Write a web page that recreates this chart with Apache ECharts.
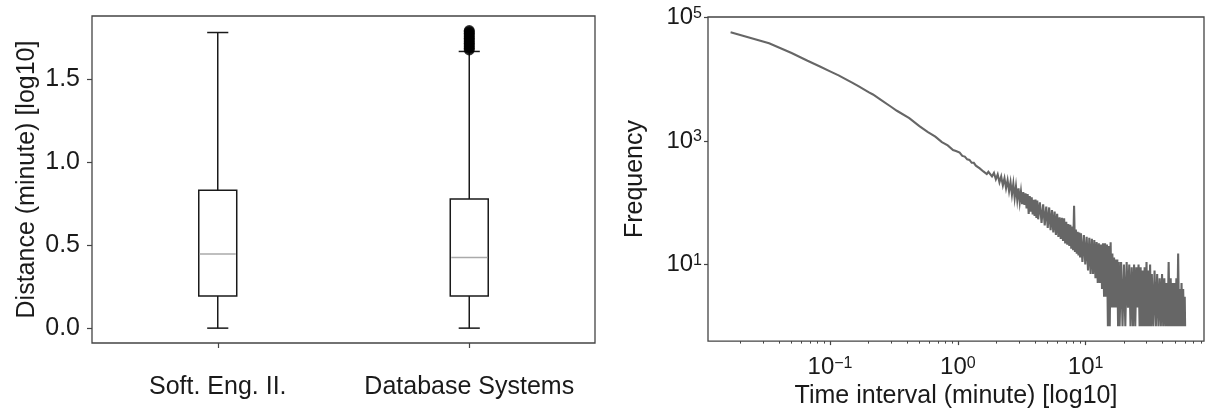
<!DOCTYPE html>
<html><head><meta charset="utf-8">
<script src="https://cdn.jsdelivr.net/npm/echarts@6/dist/echarts.min.js"></script>
<style>html,body{margin:0;padding:0;background:#fff}#c{width:1206px;height:414px}</style>
</head><body><div id="c"></div>
<script>
// ---------- Left panel: box plots (log10 minutes) ----------
const categories = ['Soft. Eng. II.', 'Database Systems'];
// [min, Q1, median, Q3, upper whisker]
const softEngStats = [0, 0.194, 0.446, 0.830, 1.780];
const databaseStats = [0, 0.194, 0.426, 0.778, 1.666];
const databaseOutliers = [1.675, 1.685, 1.695, 1.705, 1.715, 1.725, 1.735, 1.745, 1.755, 1.765, 1.775, 1.785, 1.792];
const distanceTicks = [0, 0.5, 1.0, 1.5];

// ---------- Right panel: frequency of time intervals ----------
const intervalSeconds = [
  1,2,3,4,5,6,7,8,9,10,12,13,15,18,20,25,30,35,40,45,50,55,58,
  62,65,68,71,74,77,80,83,86,89,92,95,98,101,104,
  107,111,115,119,123,127,131,135,139,143,147,151,155,159,163,167,171,175,179,183,187,191,195,199,203,207,211,215,219,223,227,231,235,239,243,247,251,255,
  263,271,279,287,295,303,311,319,327,335,343,351,359,367,375,383,391,399,407,415,423,431,439,447,455,463,471,479,487,495,503,511,519,527,535,543,
  551,566,581,596,611,626,641,656,671,686,701,716,731,746,761,776,791,806,821,836,851,866,881,896,911,926,941,956,971,986,1001,1016,1031,1046,1061,1076,1091,1106,
  1136,1166,1196,1226,1256,1286,1316,1346,1376,1406,1436,1466,1496,1526,1556,1586,1616,1646,1676,1706,1736,1766,1796,1826,1856,1886,1916,1946,1976,
  2026,2076,2126,2176,2226,2276,2326,2376,2426,2476,2526,2576,2626,2676,2726,2776,2826,2876,2926,2976,3026,3076,3126,3176,3226,3276,3326,3376,3426,3476,3526,3576,3600
];
const frequency = [
  58200,38600,26700,20000,16200,13500,11600,10000,8800,7760,6200,5700,4660,3600,3100,2350,1750,1400,1180,960,850,715,690,
  650,575,560,505,495,445,445,400,400,360,362,322,338,292,318,
  316,268,305,240,288,214,266,192,250,172,232,154,215,136,204,120,184,112,171,103,152,95,149,92,142,81,138,66,128,72,123,65,112,61,113,57,109,54,
  102,47,94,43,87,39,84,36,76,33,72,30,66,28,58,26,57,24,56,22,49,21,45,20,44,18,41,17,89,16,37,15,34,14,33,13,
  32,11,30,10,28,8,27,7,26,7,25,6,23,5,22,5,21,4,22,3,22,3,21,1,20,1,23,2,15,2,13,2,12,2,12,1,11,1,
  11,1,10,1,11,2,10,1,9,1,10,1,9,2,10,1,9,1,8,1,9,1,11,1,8,1,10,1,7,
  1,8,1,7,1,6,1,7,1,6,1,5,1,11,1,6,1,5,1,5,1,6,1,15,1,4,1,5,1,4,1,3,1
];
const timeTickExponents = [-1, 0, 1];
const freqTickExponents = [1, 3, 5];
const minorMultipliers = [2, 3, 4, 5, 6, 7, 8, 9];
const minorDecades = [-2, -1, 0, 1];

// axis extents (log10 space), matching the reference margins
const xLogMin = -1.955, xLogMax = 1.926;
const yLogMin = -0.242, yLogMax = 5.011;

const FONT = "'Liberation Sans', Arial, sans-serif";
const TXT = '#1a1a1a';
const FRAME = '#444';

const curveData = intervalSeconds.map((s, i) => [Math.log10(s / 60), Math.log10(frequency[i])]);
const minorTicks = [];
minorDecades.forEach(d => minorMultipliers.forEach(k => {
  const v = Math.log10(k * Math.pow(10, d));
  if (v > xLogMin && v < xLogMax) minorTicks.push(v);
}));
const expLabel = v => {
  const e = Math.round(v);
  return '{b|10}{s|' + (e < 0 ? '\u2212' + (-e) : String(e)) + '}';
};
const richExp = {
  b: { fontSize: 24, lineHeight: 24, fontFamily: FONT, color: TXT },
  s: { fontSize: 16, lineHeight: 16, fontFamily: FONT, color: TXT, verticalAlign: 'top' }
};

const chart = echarts.init(document.getElementById('c'), null, { renderer: 'canvas' });
chart.setOption({
  animation: false,
  backgroundColor: '#fff',
  grid: [
    { left: 92, top: 16, width: 503, height: 327, show: true, borderColor: FRAME, borderWidth: 1.3, backgroundColor: 'transparent' },
    { left: 708, top: 17, width: 496, height: 326, show: true, borderColor: FRAME, borderWidth: 1.3, backgroundColor: 'transparent' }
  ],
  xAxis: [
    {
      gridIndex: 0, type: 'category', data: categories, boundaryGap: true, position: 'bottom',
      axisLine: { show: false, onZero: false },
      axisTick: { show: true, alignWithLabel: true, length: 5, lineStyle: { color: FRAME, width: 1.2 } },
      axisLabel: { interval: 0, margin: 32, fontSize: 25, fontFamily: FONT, color: TXT },
      splitLine: { show: false }
    },
    {
      gridIndex: 1, type: 'value', min: xLogMin, max: xLogMax, position: 'bottom',
      name: 'Time interval (minute) [log10]', nameLocation: 'middle', nameGap: 37,
      nameTextStyle: { fontSize: 25, fontFamily: FONT, color: TXT },
      axisLine: { show: false, onZero: false },
      axisTick: { show: true, customValues: timeTickExponents, length: 4, lineStyle: { color: FRAME, width: 1.2 } },
      axisLabel: { show: true, customValues: timeTickExponents, margin: 14, formatter: expLabel, rich: richExp },
      splitLine: { show: false }
    },
    {
      gridIndex: 1, type: 'value', min: xLogMin, max: xLogMax, position: 'bottom',
      axisLine: { show: false, onZero: false },
      axisTick: { show: true, customValues: minorTicks, length: 2.5, lineStyle: { color: FRAME, width: 1 } },
      axisLabel: { show: false },
      splitLine: { show: false }
    }
  ],
  yAxis: [
    {
      gridIndex: 0, type: 'value', min: -0.0895, max: 1.8795, position: 'left',
      name: 'Distance (minute) [log10]', nameLocation: 'middle', nameGap: 52, nameRotate: 90,
      nameTextStyle: { fontSize: 25, fontFamily: FONT, color: TXT },
      axisLine: { show: false, onZero: false },
      axisTick: { show: true, customValues: distanceTicks, length: 5, lineStyle: { color: FRAME, width: 1.2 } },
      axisLabel: { customValues: distanceTicks, margin: 12, fontSize: 25, fontFamily: FONT, color: TXT, formatter: v => v.toFixed(1) },
      splitLine: { show: false }
    },
    {
      gridIndex: 1, type: 'value', min: yLogMin, max: yLogMax, position: 'left',
      name: 'Frequency', nameLocation: 'middle', nameGap: 60, nameRotate: 90,
      nameTextStyle: { fontSize: 25, fontFamily: FONT, color: TXT },
      axisLine: { show: false, onZero: false },
      axisTick: { show: true, customValues: freqTickExponents, length: 4, lineStyle: { color: FRAME, width: 1.2 } },
      axisLabel: { customValues: freqTickExponents, margin: 6, formatter: expLabel, rich: richExp },
      splitLine: { show: false }
    }
  ],
  series: [
    {
      type: 'custom', xAxisIndex: 0, yAxisIndex: 0,
      data: [softEngStats, databaseStats].map((b, i) => [i].concat(b)),
      encode: { x: 0, y: [1, 2, 3, 4, 5] },
      renderItem: function (params, api) {
        const c = api.value(0);
        const lo = api.coord([c, api.value(1)]);
        const q1 = api.coord([c, api.value(2)]);
        const md = api.coord([c, api.value(3)]);
        const q3 = api.coord([c, api.value(4)]);
        const hi = api.coord([c, api.value(5)]);
        const band = api.size([1, 0])[0];
        const hw = band * 0.0755, cw = band * 0.042, x = lo[0];
        const ln = (x1, y1, x2, y2, stroke) => ({ type: 'line', shape: { x1, y1, x2, y2 }, style: { stroke: stroke || '#1a1a1a', lineWidth: 1.5 } });
        return {
          type: 'group', children: [
            ln(x, q3[1], x, hi[1]),
            ln(x, q1[1], x, lo[1]),
            ln(x - cw, hi[1], x + cw, hi[1]),
            ln(x - cw, lo[1], x + cw, lo[1]),
            { type: 'rect', shape: { x: x - hw, y: q3[1], width: 2 * hw, height: q1[1] - q3[1] }, style: { fill: '#fff', stroke: '#1a1a1a', lineWidth: 1.5 } },
            ln(x - hw + 1, md[1], x + hw - 1, md[1], '#aaaaaa')
          ]
        };
      }
    },
    {
      type: 'scatter', xAxisIndex: 0, yAxisIndex: 0,
      data: databaseOutliers.map(v => [1, v]),
      symbol: 'circle', symbolSize: 11,
      itemStyle: { color: '#000' }, z: 3
    },
    {
      type: 'line', xAxisIndex: 1, yAxisIndex: 1,
      data: curveData, showSymbol: false, symbol: 'none',
      lineStyle: { color: '#666', width: 2.1, join: 'miter' },
      z: 2
    }
  ]
});
</script></body></html>
